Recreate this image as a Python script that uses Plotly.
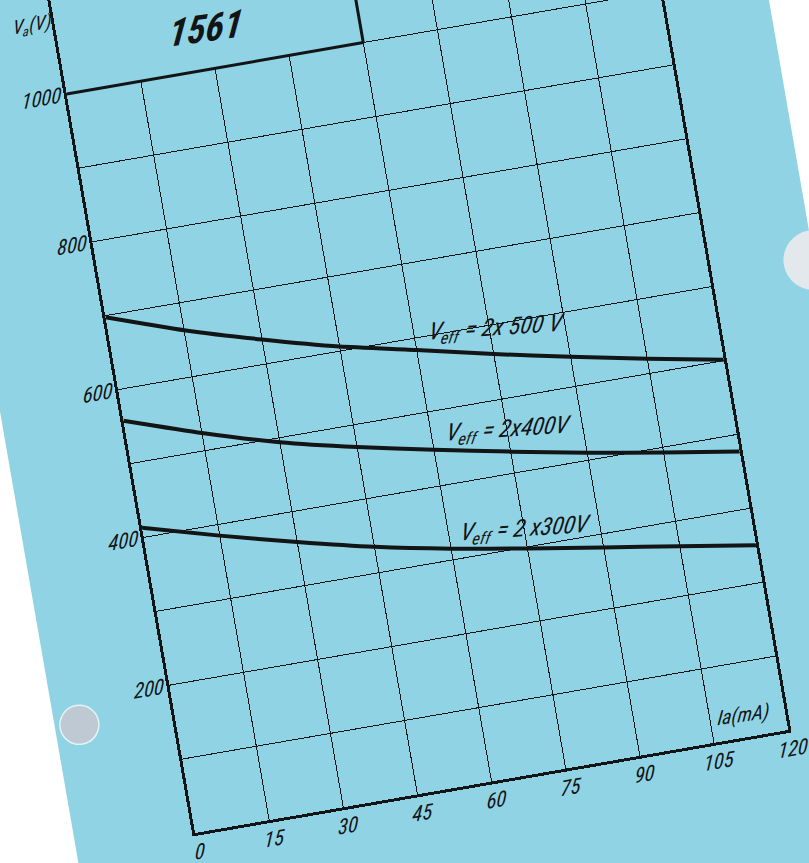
import plotly.graph_objects as go

# Anode voltage vs anode current, valve 1561
ia_ma = [0, 15, 30, 45, 60, 75, 90, 105, 120]
va_500 = [698, 663, 633, 606, 584, 561, 540, 520, 501]
va_400 = [558, 524, 494, 470, 449, 429, 410, 393, 377]
va_300 = [413, 385, 359, 335, 315, 298, 282, 266, 250]

curve_labels = ['V<sub>eff</sub> = 2x 500 V', 'V<sub>eff</sub> = 2x400V', 'V<sub>eff</sub> = 2 x300V']
label_x = [76, 75, 75]
label_y = [594, 458, 324]

y_ticks = list(range(0, 1300, 100))
y_ticktext = [str(v) if v in (200, 400, 600, 800, 1000) else '' for v in y_ticks]
x_ticks = [0, 15, 30, 45, 60, 75, 90, 105, 120]

BG = '#90d3e4'
INK = '#121416'
FONT = 'Roboto Condensed'


def ifont(size, weight='normal'):
	return dict(family=FONT, size=size, color=INK, style='italic', weight=weight)


def it(s):
	return '<i>' + s + '</i>' if s else ''


fig = go.Figure()
for v in (va_500, va_400, va_300):
	fig.add_trace(go.Scatter(x=ia_ma, y=v, mode='lines',
					line=dict(color=INK, width=4, shape='spline', smoothing=0.5),
					hoverinfo='skip', showlegend=False))

for txt, lx, ly in zip(curve_labels, label_x, label_y):
	fig.add_annotation(x=lx, y=ly, text=it(txt), showarrow=False, textangle=6,
						font=ifont(24))

fig.add_annotation(x=29, y=1055, text=it('1561'), showarrow=False, textangle=2,
					font=ifont(38, 'bold'))
fig.add_annotation(x=0, y=1098, text=it('V<sub>a</sub>(V)'), showarrow=False,
					xanchor='right', xshift=-2, font=ifont(19))
fig.add_annotation(x=111.5, y=31, text=it('Ia(mA)'), showarrow=False, textangle=2,
					font=ifont(20))

# title box in the top-left corner hides the grid
fig.add_shape(type='rect', x0=0, x1=60, y0=1000, y1=1200, xref='x', yref='y',
				fillcolor=BG, line=dict(width=0), layer='between')
fig.add_shape(type='line', x0=0, x1=60, y0=1000, y1=1000, xref='x', yref='y',
				line=dict(color=INK, width=3))
fig.add_shape(type='line', x0=60, x1=60, y0=1000, y1=1200, xref='x', yref='y',
				line=dict(color=INK, width=3))

# punch holes of the card
fig.add_shape(type='circle', xref='paper', yref='paper', xsizemode='pixel', ysizemode='pixel',
				xanchor=-0.1585, yanchor=0.1404, x0=-19.5, x1=19.5, y0=-19.5, y1=19.5,
				fillcolor='#bfc9d3', line=dict(color='#e2f4f6', width=1.5))
fig.add_shape(type='circle', xref='paper', yref='paper', xsizemode='pixel', ysizemode='pixel',
				xanchor=1.175, yanchor=0.5097, x0=-30, x1=30, y0=-30, y1=30,
				fillcolor='#e3e8ed', line=dict(width=0))

layout = {
	'width': 828, 'height': 1100,
	'margin': dict(l=120, r=106, t=40, b=160),
	'paper_bgcolor': BG, 'plot_bgcolor': BG,
	'font': ifont(21),
	'xaxis': dict(range=[0, 120], tickvals=x_ticks, ticktext=[it(str(v)) for v in x_ticks],
				showgrid=True, gridcolor=INK, gridwidth=1.2,
				showline=True, linecolor=INK, linewidth=3, zeroline=False, ticks='',
				tickfont=ifont(21), ticklabelstandoff=-2, fixedrange=True),
	'yaxis': dict(range=[0, 1200], tickvals=y_ticks, ticktext=[it(t) for t in y_ticktext],
				showgrid=True, gridcolor=INK, gridwidth=1.2, showline=True, mirror=True,
				linecolor=INK, linewidth=3, zeroline=False, ticks='', tickfont=ifont(21),
				fixedrange=True),
}
fig.update_layout(layout)

# the card is scanned slightly turned: rotate the whole plot div,
# and slant the lettering a bit more (stencil italics lean further than the font)
post = """
var gd = document.getElementById('{plot_id}');
document.documentElement.style.overflow = 'hidden';
document.body.style.margin = '0';
document.body.style.overflow = 'hidden';
document.body.style.background = '#ffffff';
gd.style.position = 'absolute';
gd.style.left = '75px';
gd.style.top = '-107px';
gd.style.transformOrigin = '120px 940px';
gd.style.transform = 'rotate(-9.85deg)';
gd.querySelectorAll('text').forEach(function(t) {
	var x = parseFloat(t.getAttribute('x')) || 0;
	var y = parseFloat(t.getAttribute('y')) || 0;
	var tr = t.getAttribute('transform') || '';
	t.setAttribute('transform', tr + ' translate(' + x + ',' + y + ') skewX(-14) translate(' + (-x) + ',' + (-y) + ')');
});
"""

fig.write_html('out.html', post_script=post, config={'displayModeBar': False})
